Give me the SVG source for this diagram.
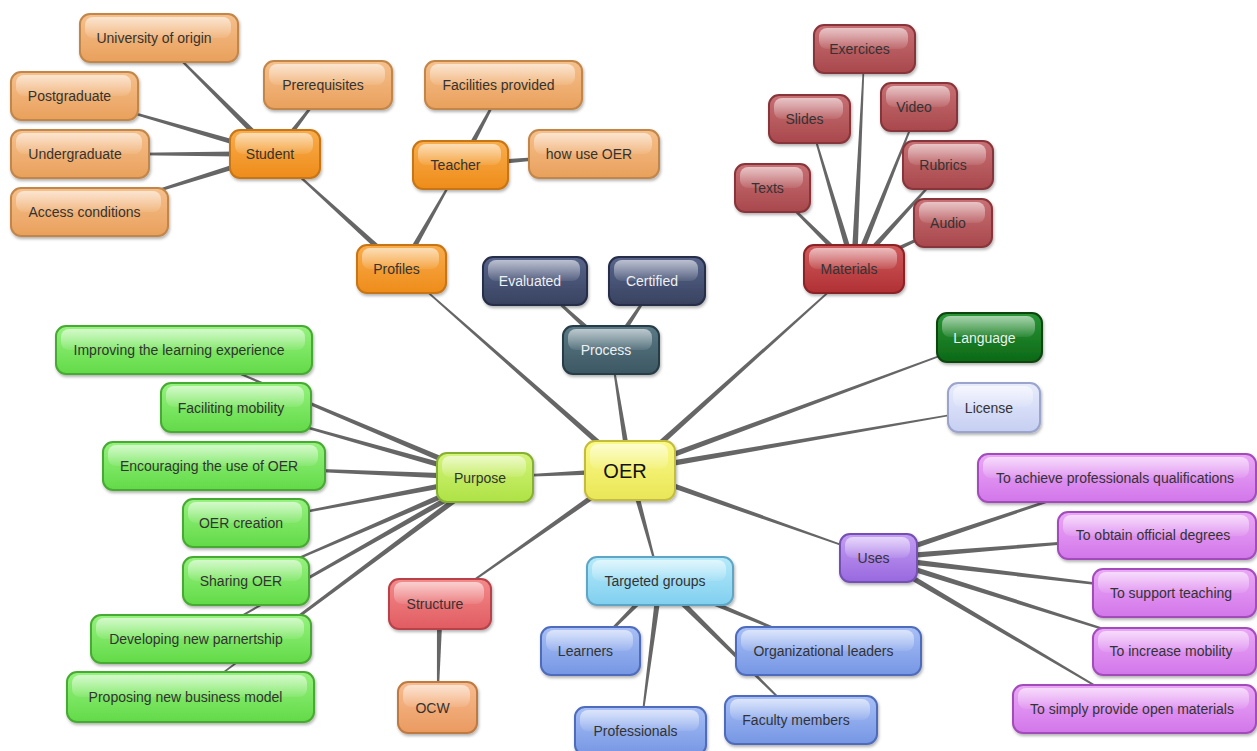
<svg xmlns="http://www.w3.org/2000/svg" xmlns:xlink="http://www.w3.org/1999/xlink" width="1257" height="751" viewBox="0 0 1257 751">
<style>
.box{stroke-width:2;filter:url(#sh)}
.gl{fill:url(#gloss)}
text{font-family:"Liberation Sans",Arial,sans-serif;font-size:14px;fill:#333;text-anchor:middle}
text.lt{fill:#eef0f2}
text.big{font-size:20px;fill:#111}
.c{fill:#666}
.o1{fill:url(#g-o1);stroke:#c2864a}
.o2{fill:url(#g-o2);stroke:#c87412}
.nv{fill:url(#g-nv);stroke:#262d48}
.pr{fill:url(#g-pr);stroke:#263c46}
.m{fill:url(#g-m);stroke:#8a2226}
.r{fill:url(#g-r);stroke:#87363a}
.lg{fill:url(#g-lg);stroke:#0a4410}
.lc{fill:url(#g-lc);stroke:#9aa4cc}
.y{fill:url(#g-y);stroke:#c4bc3a}
.pu{fill:url(#g-pu);stroke:#86b030}
.gr{fill:url(#g-gr);stroke:#46aa30}
.st{fill:url(#g-st);stroke:#b8424a}
.oc{fill:url(#g-oc);stroke:#bf7a42}
.tg{fill:url(#g-tg);stroke:#5fa6c6}
.bl{fill:url(#g-bl);stroke:#4f6cbc}
.us{fill:url(#g-us);stroke:#7450b4}
.pk{fill:url(#g-pk);stroke:#a44cbc}
</style>
<defs>
<filter id="sh" x="-10%" y="-20%" width="125%" height="150%"><feDropShadow dx="1" dy="2" stdDeviation="1.5" flood-color="#000" flood-opacity="0.3"/></filter>
<linearGradient id="gloss" x1="0" y1="0" x2="0" y2="1"><stop offset="0" stop-color="#fff" stop-opacity="0.6"/><stop offset="1" stop-color="#fff" stop-opacity="0.08"/></linearGradient>
<linearGradient id="g-o1" x1="0" y1="0" x2="0" y2="1"><stop offset="0" stop-color="#f6c08c"/><stop offset="1" stop-color="#e9a05c"/></linearGradient>
<linearGradient id="g-o2" x1="0" y1="0" x2="0" y2="1"><stop offset="0" stop-color="#f9ad4c"/><stop offset="1" stop-color="#ee8c1a"/></linearGradient>
<linearGradient id="g-nv" x1="0" y1="0" x2="0" y2="1"><stop offset="0" stop-color="#58658c"/><stop offset="1" stop-color="#38425f"/></linearGradient>
<linearGradient id="g-pr" x1="0" y1="0" x2="0" y2="1"><stop offset="0" stop-color="#5a7a86"/><stop offset="1" stop-color="#3c5762"/></linearGradient>
<linearGradient id="g-m" x1="0" y1="0" x2="0" y2="1"><stop offset="0" stop-color="#d05a5c"/><stop offset="1" stop-color="#b03034"/></linearGradient>
<linearGradient id="g-r" x1="0" y1="0" x2="0" y2="1"><stop offset="0" stop-color="#c87074"/><stop offset="1" stop-color="#a8484c"/></linearGradient>
<linearGradient id="g-lg" x1="0" y1="0" x2="0" y2="1"><stop offset="0" stop-color="#2a9636"/><stop offset="1" stop-color="#0c6816"/></linearGradient>
<linearGradient id="g-lc" x1="0" y1="0" x2="0" y2="1"><stop offset="0" stop-color="#e8ecfc"/><stop offset="1" stop-color="#c6cff2"/></linearGradient>
<linearGradient id="g-y" x1="0" y1="0" x2="0" y2="1"><stop offset="0" stop-color="#fafa86"/><stop offset="1" stop-color="#eae658"/></linearGradient>
<linearGradient id="g-pu" x1="0" y1="0" x2="0" y2="1"><stop offset="0" stop-color="#d4f47a"/><stop offset="1" stop-color="#aee244"/></linearGradient>
<linearGradient id="g-gr" x1="0" y1="0" x2="0" y2="1"><stop offset="0" stop-color="#96f27e"/><stop offset="1" stop-color="#62da48"/></linearGradient>
<linearGradient id="g-st" x1="0" y1="0" x2="0" y2="1"><stop offset="0" stop-color="#f48a8a"/><stop offset="1" stop-color="#e05c62"/></linearGradient>
<linearGradient id="g-oc" x1="0" y1="0" x2="0" y2="1"><stop offset="0" stop-color="#f8bc90"/><stop offset="1" stop-color="#ea9a60"/></linearGradient>
<linearGradient id="g-tg" x1="0" y1="0" x2="0" y2="1"><stop offset="0" stop-color="#b6eafa"/><stop offset="1" stop-color="#80cfef"/></linearGradient>
<linearGradient id="g-bl" x1="0" y1="0" x2="0" y2="1"><stop offset="0" stop-color="#a8c0f6"/><stop offset="1" stop-color="#7696e4"/></linearGradient>
<linearGradient id="g-us" x1="0" y1="0" x2="0" y2="1"><stop offset="0" stop-color="#c49ef4"/><stop offset="1" stop-color="#9868de"/></linearGradient>
<linearGradient id="g-pk" x1="0" y1="0" x2="0" y2="1"><stop offset="0" stop-color="#eaa8f6"/><stop offset="1" stop-color="#d276ea"/></linearGradient>
<polygon id="tp" points="0,-3 1,-0.6 1,0.6 0,3"/>
</defs>
<rect width="1257" height="751" fill="#fff"/>
<g id="connectors" class="c">
<use href="#tp" transform="matrix(-228.5,-201.5,0.661,-0.750,630,470.5)"/>
<use href="#tp" transform="matrix(-19,-120.5,0.988,-0.156,630,470.5)"/>
<use href="#tp" transform="matrix(224,-201.5,0.669,0.743,630,470.5)"/>
<use href="#tp" transform="matrix(359.5,-133,0.347,0.938,630,470.5)"/>
<use href="#tp" transform="matrix(364,-63,0.171,0.985,630,470.5)"/>
<use href="#tp" transform="matrix(248.5,87.5,-0.332,0.943,630,470.5)"/>
<use href="#tp" transform="matrix(30,110.5,-0.965,0.262,630,470.5)"/>
<use href="#tp" transform="matrix(-190,133.5,-0.575,-0.818,630,470.5)"/>
<use href="#tp" transform="matrix(-145,7,-0.048,-0.999,630,470.5)"/>
<use href="#tp" transform="matrix(-126.5,-115,0.673,-0.740,401.5,269)"/>
<use href="#tp" transform="matrix(59,-104,0.870,0.493,401.5,269)"/>
<use href="#tp" transform="matrix(-116,-116,0.707,-0.707,275,154)"/>
<use href="#tp" transform="matrix(-200.5,-58,0.278,-0.961,275,154)"/>
<use href="#tp" transform="matrix(-195,0,0,-1,275,154)"/>
<use href="#tp" transform="matrix(-185.5,58,-0.298,-0.954,275,154)"/>
<use href="#tp" transform="matrix(53,-69,0.793,0.609,275,154)"/>
<use href="#tp" transform="matrix(43,-80,0.881,0.473,460.5,165)"/>
<use href="#tp" transform="matrix(133.5,-11,0.082,0.997,460.5,165)"/>
<use href="#tp" transform="matrix(-76,-69,0.672,-0.740,611,350)"/>
<use href="#tp" transform="matrix(46,-69,0.832,0.555,611,350)"/>
<use href="#tp" transform="matrix(10.5,-220,0.999,0.048,854,269)"/>
<use href="#tp" transform="matrix(-44.5,-150,0.958,-0.284,854,269)"/>
<use href="#tp" transform="matrix(-81.5,-81,0.705,-0.709,854,269)"/>
<use href="#tp" transform="matrix(65,-162,0.928,0.372,854,269)"/>
<use href="#tp" transform="matrix(94,-104,0.742,0.670,854,269)"/>
<use href="#tp" transform="matrix(99,-46,0.421,0.907,854,269)"/>
<use href="#tp" transform="matrix(-301,-127.5,0.390,-0.921,485,477.5)"/>
<use href="#tp" transform="matrix(-249,-70,0.271,-0.963,485,477.5)"/>
<use href="#tp" transform="matrix(-271,-11.5,0.042,-0.999,485,477.5)"/>
<use href="#tp" transform="matrix(-239,45.5,-0.187,-0.982,485,477.5)"/>
<use href="#tp" transform="matrix(-239,103.5,-0.397,-0.918,485,477.5)"/>
<use href="#tp" transform="matrix(-284,161.5,-0.494,-0.869,485,477.5)"/>
<use href="#tp" transform="matrix(-294.5,219.5,-0.598,-0.802,485,477.5)"/>
<use href="#tp" transform="matrix(-2.5,103.5,-1,-0.024,440,604)"/>
<use href="#tp" transform="matrix(-69.5,70,-0.710,-0.705,660,581)"/>
<use href="#tp" transform="matrix(-19.5,150,-0.991,-0.129,660,581)"/>
<use href="#tp" transform="matrix(168.5,70,-0.384,0.923,660,581)"/>
<use href="#tp" transform="matrix(141,139,-0.702,0.712,660,581)"/>
<use href="#tp" transform="matrix(238.5,-80,0.318,0.948,878.5,558)"/>
<use href="#tp" transform="matrix(278.5,-22.5,0.081,0.997,878.5,558)"/>
<use href="#tp" transform="matrix(296,35,-0.117,0.993,878.5,558)"/>
<use href="#tp" transform="matrix(296,93.5,-0.301,0.954,878.5,558)"/>
<use href="#tp" transform="matrix(256,151,-0.508,0.861,878.5,558)"/>
</g>
<g id="n-university"><rect class="box o1" x="80" y="14" width="158" height="48" rx="10"/><rect class="gl" x="85" y="17" width="146" height="21" rx="8"/><text x="154" y="43">University of origin</text></g>
<g id="n-postgraduate"><rect class="box o1" x="11" y="72" width="127" height="48" rx="10"/><rect class="gl" x="16" y="75" width="115" height="21" rx="8"/><text x="69.5" y="101">Postgraduate</text></g>
<g id="n-undergraduate"><rect class="box o1" x="11" y="130" width="138" height="48" rx="10"/><rect class="gl" x="16" y="133" width="126" height="21" rx="8"/><text x="75" y="159">Undergraduate</text></g>
<g id="n-access"><rect class="box o1" x="11" y="188" width="157" height="48" rx="10"/><rect class="gl" x="16" y="191" width="145" height="21" rx="8"/><text x="84.5" y="217">Access conditions</text></g>
<g id="n-prerequisites"><rect class="box o1" x="264" y="61" width="128" height="48" rx="10"/><rect class="gl" x="269" y="64" width="116" height="21" rx="8"/><text x="323" y="90">Prerequisites</text></g>
<g id="n-facilities"><rect class="box o1" x="425" y="61" width="157" height="48" rx="10"/><rect class="gl" x="430" y="64" width="145" height="21" rx="8"/><text x="498.5" y="90">Facilities provided</text></g>
<g id="n-howuse"><rect class="box o1" x="529" y="130" width="130" height="48" rx="10"/><rect class="gl" x="534" y="133" width="118" height="21" rx="8"/><text x="589" y="159">how use OER</text></g>
<g id="n-student"><rect class="box o2" x="230" y="130" width="90" height="48" rx="10"/><rect class="gl" x="235" y="133" width="78" height="21" rx="8"/><text x="270" y="159">Student</text></g>
<g id="n-teacher"><rect class="box o2" x="413" y="141" width="95" height="48" rx="10"/><rect class="gl" x="418" y="144" width="83" height="21" rx="8"/><text x="455.5" y="170">Teacher</text></g>
<g id="n-profiles"><rect class="box o2" x="357" y="245" width="89" height="48" rx="10"/><rect class="gl" x="362" y="248" width="77" height="21" rx="8"/><text x="396.5" y="274">Profiles</text></g>
<g id="n-evaluated"><rect class="box nv" x="483" y="257" width="104" height="48" rx="10"/><rect class="gl" x="488" y="260" width="92" height="21" rx="8"/><text class="lt" x="530" y="286">Evaluated</text></g>
<g id="n-certified"><rect class="box nv" x="609" y="257" width="96" height="48" rx="10"/><rect class="gl" x="614" y="260" width="84" height="21" rx="8"/><text class="lt" x="652" y="286">Certified</text></g>
<g id="n-process"><rect class="box pr" x="563" y="326" width="96" height="48" rx="10"/><rect class="gl" x="568" y="329" width="84" height="21" rx="8"/><text class="lt" x="606" y="355">Process</text></g>
<g id="n-materials"><rect class="box m" x="804" y="245" width="100" height="48" rx="10"/><rect class="gl" x="809" y="248" width="88" height="21" rx="8"/><text x="849" y="274">Materials</text></g>
<g id="n-exercices"><rect class="box r" x="814" y="25" width="101" height="48" rx="10"/><rect class="gl" x="819" y="28" width="89" height="21" rx="8"/><text x="859.5" y="54">Exercices</text></g>
<g id="n-slides"><rect class="box r" x="769" y="95" width="81" height="48" rx="10"/><rect class="gl" x="774" y="98" width="69" height="21" rx="8"/><text x="804.5" y="124">Slides</text></g>
<g id="n-texts"><rect class="box r" x="735" y="164" width="75" height="48" rx="10"/><rect class="gl" x="740" y="167" width="63" height="21" rx="8"/><text x="767.5" y="193">Texts</text></g>
<g id="n-video"><rect class="box r" x="881" y="83" width="76" height="48" rx="10"/><rect class="gl" x="886" y="86" width="64" height="21" rx="8"/><text x="914" y="112">Video</text></g>
<g id="n-rubrics"><rect class="box r" x="903" y="141" width="90" height="48" rx="10"/><rect class="gl" x="908" y="144" width="78" height="21" rx="8"/><text x="943" y="170">Rubrics</text></g>
<g id="n-audio"><rect class="box r" x="914" y="199" width="78" height="48" rx="10"/><rect class="gl" x="919" y="202" width="66" height="21" rx="8"/><text x="948" y="228">Audio</text></g>
<g id="n-language"><rect class="box lg" x="937" y="313" width="105" height="49" rx="10"/><rect class="gl" x="942" y="316" width="93" height="21" rx="8"/><text class="lt" x="984.5" y="343">Language</text></g>
<g id="n-license"><rect class="box lc" x="948" y="383" width="92" height="49" rx="10"/><rect class="gl" x="953" y="386" width="80" height="21" rx="8"/><text x="989" y="413">License</text></g>
<g id="n-oer"><rect class="box y" x="585" y="441" width="90" height="59" rx="10"/><rect class="gl" x="590" y="444" width="78" height="25" rx="8"/><text class="big" x="625" y="477.5">OER</text></g>
<g id="n-purpose"><rect class="box pu" x="437" y="453" width="96" height="49" rx="10"/><rect class="gl" x="442" y="456" width="84" height="21" rx="8"/><text x="480" y="483">Purpose</text></g>
<g id="n-improving"><rect class="box gr" x="56" y="326" width="256" height="48" rx="10"/><rect class="gl" x="61" y="329" width="244" height="21" rx="8"/><text x="179" y="355">Improving the learning experience</text></g>
<g id="n-faciliting"><rect class="box gr" x="161" y="383" width="150" height="49" rx="10"/><rect class="gl" x="166" y="386" width="138" height="21" rx="8"/><text x="231" y="413">Faciliting mobility</text></g>
<g id="n-encouraging"><rect class="box gr" x="103" y="442" width="222" height="48" rx="10"/><rect class="gl" x="108" y="445" width="210" height="21" rx="8"/><text x="209" y="471">Encouraging the use of OER</text></g>
<g id="n-creation"><rect class="box gr" x="183" y="499" width="126" height="48" rx="10"/><rect class="gl" x="188" y="502" width="114" height="21" rx="8"/><text x="241" y="528">OER creation</text></g>
<g id="n-sharing"><rect class="box gr" x="183" y="557" width="126" height="48" rx="10"/><rect class="gl" x="188" y="560" width="114" height="21" rx="8"/><text x="241" y="586">Sharing OER</text></g>
<g id="n-developing"><rect class="box gr" x="91" y="615" width="220" height="48" rx="10"/><rect class="gl" x="96" y="618" width="208" height="21" rx="8"/><text x="196" y="644">Developing new parnertship</text></g>
<g id="n-proposing"><rect class="box gr" x="67" y="672" width="247" height="50" rx="10"/><rect class="gl" x="72" y="675" width="235" height="22" rx="8"/><text x="185.5" y="702">Proposing new business model</text></g>
<g id="n-structure"><rect class="box st" x="389" y="579" width="102" height="50" rx="10"/><rect class="gl" x="394" y="582" width="90" height="22" rx="8"/><text x="435" y="609">Structure</text></g>
<g id="n-ocw"><rect class="box oc" x="398" y="682" width="79" height="51" rx="10"/><rect class="gl" x="403" y="685" width="67" height="22" rx="8"/><text x="432.5" y="713">OCW</text></g>
<g id="n-targeted"><rect class="box tg" x="587" y="557" width="146" height="48" rx="10"/><rect class="gl" x="592" y="560" width="134" height="21" rx="8"/><text x="655" y="586">Targeted groups</text></g>
<g id="n-learners"><rect class="box bl" x="541" y="627" width="99" height="48" rx="10"/><rect class="gl" x="546" y="630" width="87" height="21" rx="8"/><text x="585.5" y="656">Learners</text></g>
<g id="n-professionals"><rect class="box bl" x="575" y="707" width="131" height="48" rx="10"/><rect class="gl" x="580" y="710" width="119" height="21" rx="8"/><text x="635.5" y="736">Professionals</text></g>
<g id="n-orgleaders"><rect class="box bl" x="736" y="627" width="185" height="48" rx="10"/><rect class="gl" x="741" y="630" width="173" height="21" rx="8"/><text x="823.5" y="656">Organizational leaders</text></g>
<g id="n-faculty"><rect class="box bl" x="725" y="696" width="152" height="48" rx="10"/><rect class="gl" x="730" y="699" width="140" height="21" rx="8"/><text x="796" y="725">Faculty members</text></g>
<g id="n-uses"><rect class="box us" x="840" y="534" width="77" height="48" rx="10"/><rect class="gl" x="845" y="537" width="65" height="21" rx="8"/><text x="873.5" y="563">Uses</text></g>
<g id="n-achieve"><rect class="box pk" x="978" y="454" width="278" height="48" rx="10"/><rect class="gl" x="983" y="457" width="266" height="21" rx="8"/><text x="1115" y="483">To achieve professionals qualifications</text></g>
<g id="n-obtain"><rect class="box pk" x="1058" y="512" width="198" height="47" rx="10"/><rect class="gl" x="1063" y="515" width="186" height="21" rx="8"/><text x="1153" y="540">To obtain official degrees</text></g>
<g id="n-support"><rect class="box pk" x="1093" y="569" width="163" height="48" rx="10"/><rect class="gl" x="1098" y="572" width="151" height="21" rx="8"/><text x="1171" y="598">To support teaching</text></g>
<g id="n-increase"><rect class="box pk" x="1093" y="628" width="163" height="47" rx="10"/><rect class="gl" x="1098" y="631" width="151" height="21" rx="8"/><text x="1171" y="656">To increase mobility</text></g>
<g id="n-simply"><rect class="box pk" x="1013" y="685" width="243" height="48" rx="10"/><rect class="gl" x="1018" y="688" width="231" height="21" rx="8"/><text x="1132" y="714">To simply provide open materials</text></g>
</svg>
